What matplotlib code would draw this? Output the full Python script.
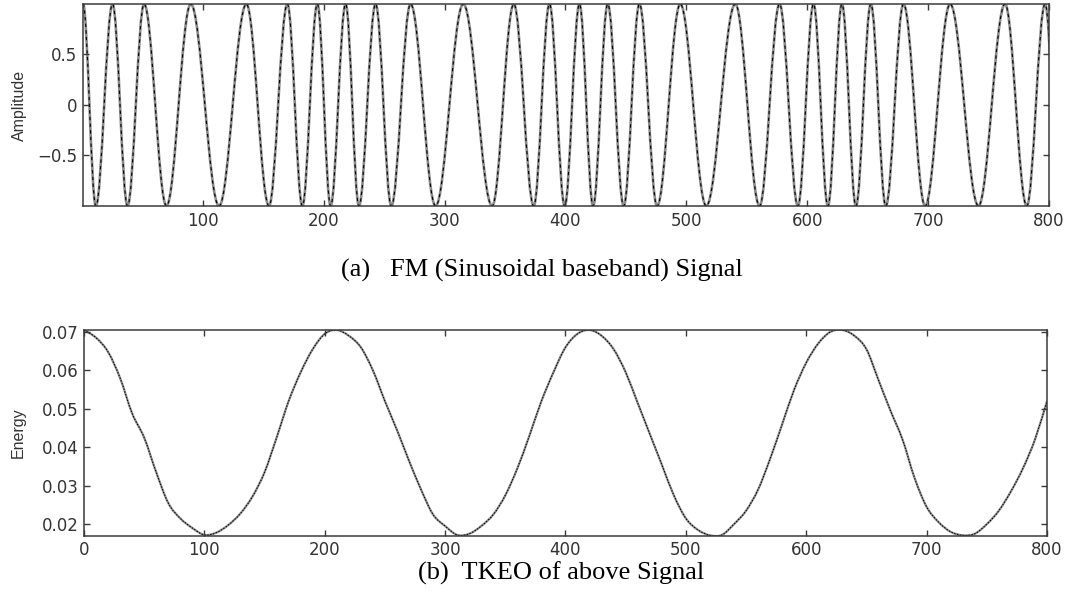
import numpy as np
import matplotlib.pyplot as plt
from matplotlib.path import Path
from matplotlib.patches import PathPatch

# posicoes (amostras) dos picos e vales do sinal FM
fm_extremos_x = [1, 11.6, 25.4, 37.8, 51.5, 70.0, 90.1, 113.5, 136.1, 154.8,
                 170.0, 182.4, 194.8, 205.8, 218.2, 229.2, 243.0, 256.0, 271.9, 292.6,
                 315.5, 339.4, 357.3, 373.8, 386.8, 399.4, 411.6, 422.9, 435.0, 448.2,
                 461.2, 475.8, 495.0, 516.5, 540.5, 560.6, 577.1, 592.3, 605.2, 617.1,
                 628.7, 640.3, 652.6, 665.0, 679.6, 697.5, 718.2, 741.6, 763.6, 781.6,
                 796.7, 809.0]
fm_extremos_y = [1.0, -1.0] * 26

# energia TKEO lida a cada 10 amostras
tkeo_x = list(range(0, 801, 10))
tkeo_y = [0.0705, 0.0685, 0.0648, 0.0580, 0.0488, 0.0425, 0.0335, 0.0255, 0.0215, 0.0190,
          0.0172, 0.0178, 0.0198, 0.0228, 0.0272, 0.0335, 0.0425, 0.0520, 0.0595, 0.0655,
          0.0695, 0.0705, 0.0690, 0.0660, 0.0600, 0.0520, 0.0445, 0.0365, 0.0290, 0.0225,
          0.0195, 0.0172, 0.0175, 0.0195, 0.0225, 0.0275, 0.0345, 0.0430, 0.0520, 0.0595,
          0.0660, 0.0695, 0.0705, 0.0690, 0.0655, 0.0595, 0.0515, 0.0435, 0.0355, 0.0275,
          0.0215, 0.0185, 0.0171, 0.0172, 0.0200, 0.0235, 0.0290, 0.0370, 0.0460, 0.0550,
          0.0620, 0.0670, 0.0700, 0.0705, 0.0690, 0.0655, 0.0575, 0.0495, 0.0420, 0.0320,
          0.0245, 0.0205, 0.0180, 0.0171, 0.0175, 0.0200, 0.0235, 0.0285, 0.0345, 0.0420,
          0.0520]

ticks_fm_y = [-0.5, 0, 0.5]
ticks_fm_x = [100, 200, 300, 400, 500, 600, 700, 800]
ticks_tkeo_y = [0.02, 0.03, 0.04, 0.05, 0.06, 0.07]
ticks_tkeo_x = [0, 100, 200, 300, 400, 500, 600, 700, 800]


# curva suave (bezier) passando pelos picos e vales
def caminho_senoidal(xs, ys, k=0.3634):
    verts = [(xs[0], ys[0])]
    codes = [Path.MOVETO]
    for i in range(1, len(xs)):
        dx = xs[i] - xs[i-1]
        verts += [(xs[i-1] + k*dx, ys[i-1]), (xs[i] - k*dx, ys[i]), (xs[i], ys[i])]
        codes += [Path.CURVE4] * 3
    return Path(verts, codes)


# curva suave (catmull-rom em bezier) passando pelos pontos lidos
def caminho_suave(xs, ys):
    p = np.column_stack([xs, ys]).astype(float)
    p = np.vstack([p[0], p, p[-1]])
    verts = [tuple(p[1])]
    codes = [Path.MOVETO]
    for i in range(1, len(p) - 2):
        c1 = p[i] + (p[i+1] - p[i-1]) / 6
        c2 = p[i+1] - (p[i+2] - p[i]) / 6
        verts += [tuple(c1), tuple(c2), tuple(p[i+1])]
        codes += [Path.CURVE4] * 3
    return Path(verts, codes)


def estilo_matlab(ax):
    for s in ax.spines.values():
        s.set_color('#3a3a3a')
        s.set_linewidth(1.1)
    ax.tick_params(direction='in', top=True, right=True, length=4, width=1,
                   color='#3a3a3a', labelsize=12, labelcolor='#333333', pad=4)
    for lab in ax.get_xticklabels() + ax.get_yticklabels():
        lab.set_family('DejaVu Sans')


fig = plt.figure(figsize=(10.7, 5.96), dpi=100)

# (a) sinal FM
ax1 = fig.add_axes([0.0776, 0.6544, 0.9028, 0.3389])
caminho = caminho_senoidal(fm_extremos_x, fm_extremos_y)
ax1.add_patch(PathPatch(caminho, fill=False, edgecolor='#8c8c8c', lw=1.9))
ax1.add_patch(PathPatch(caminho, fill=False, edgecolor='black', lw=0.8, linestyle=(0, (3, 3))))
ax1.set_xlim(1, 800)
ax1.set_ylim(-1.0, 1.0)
ax1.set_xticks(ticks_fm_x)
ax1.set_yticks(ticks_fm_y)
ax1.set_yticklabels(['\u22120.5', '0', '0.5'])
ax1.set_ylabel('Amplitude', family=['Liberation Sans Narrow', 'Liberation Sans'],
               fontsize=11.5, color='#333333')
ax1.yaxis.set_label_coords(-0.058, 0.5)
estilo_matlab(ax1)

# (b) TKEO
ax2 = fig.add_axes([0.0785, 0.1012, 0.9, 0.3451])
caminho2 = caminho_suave(tkeo_x, tkeo_y)
ax2.add_patch(PathPatch(caminho2, fill=False, edgecolor='#8c8c8c', lw=1.6))
ax2.add_patch(PathPatch(caminho2, fill=False, edgecolor='black', lw=0.7, linestyle=(0, (1.5, 1.5))))
ax2.set_xlim(0, 800)
ax2.set_ylim(0.0170, 0.0705)
ax2.set_xticks(ticks_tkeo_x)
ax2.set_yticks(ticks_tkeo_y)
ax2.set_yticklabels(['0.02', '0.03', '0.04', '0.05', '0.06', '0.07'])
ax2.set_ylabel('Energy', family=['Liberation Sans Narrow', 'Liberation Sans'],
               fontsize=11.5, color='#333333')
ax2.yaxis.set_label_coords(-0.061, 0.5)
estilo_matlab(ax2)

fig.text(542/1070, 1 - 270/596, '(a)   FM (Sinusoidal baseband) Signal',
         family='Liberation Serif', fontsize=19, ha='center', va='center')
fig.text(561/1070, 1 - 573/596, '(b)  TKEO of above Signal',
         family='Liberation Serif', fontsize=19, ha='center', va='center')

plt.savefig('out.png', dpi=100)
